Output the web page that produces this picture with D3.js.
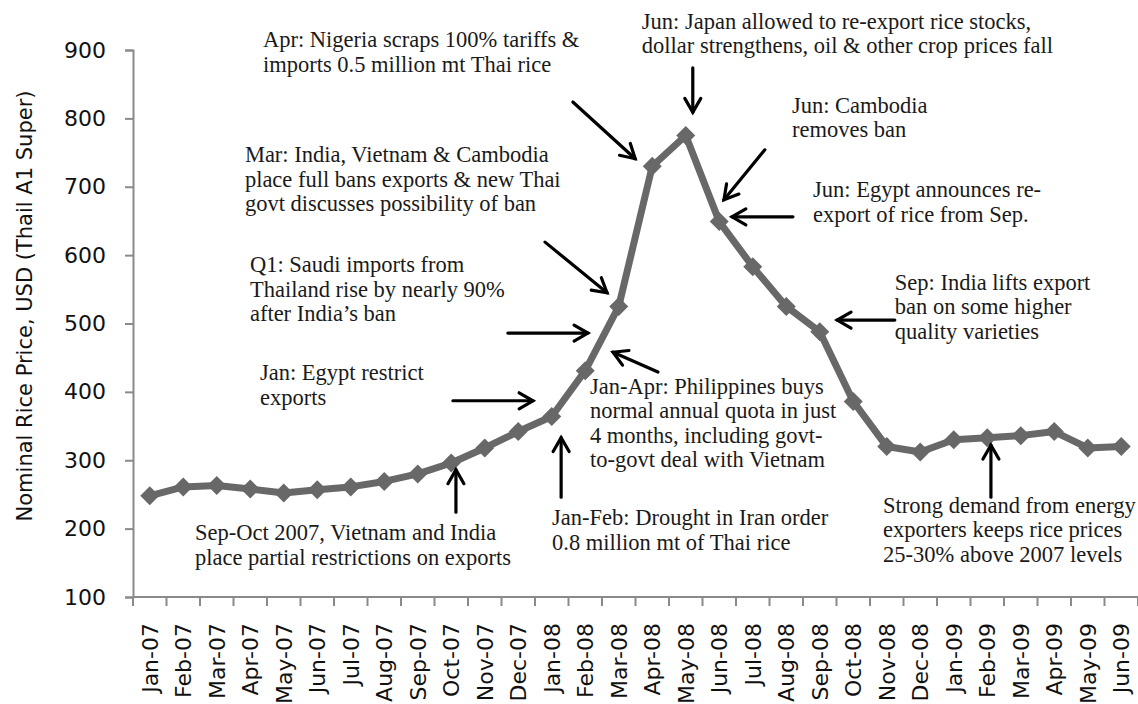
<!DOCTYPE html>
<html>
<head>
<meta charset="utf-8">
<script src="https://cdn.jsdelivr.net/npm/d3@7"></script>
<style>
  body { margin: 0; background: #fff; }
  svg { display: block; }
</style>
</head>
<body>
<div id="chart"></div>
<script>
// monthly Thai A1 Super prices, USD/mt
const months = ["Jan-07","Feb-07","Mar-07","Apr-07","May-07","Jun-07","Jul-07","Aug-07","Sep-07","Oct-07","Nov-07","Dec-07",
                "Jan-08","Feb-08","Mar-08","Apr-08","May-08","Jun-08","Jul-08","Aug-08","Sep-08","Oct-08","Nov-08","Dec-08",
                "Jan-09","Feb-09","Mar-09","Apr-09","May-09","Jun-09"];
const prices = [248,261,263,258,252,257,261,269,280,296,318,342,
                364,431,525,730,775,649,583,525,488,386,320,312,
                330,333,336,342,318,320];
const yTicks = [100,200,300,400,500,600,700,800,900];
const yTitle = "Nominal Rice Price, USD (Thail A1 Super)";

// annotation text: i = month index (fractional), v = price level of first baseline
const notes = [
  {i: 3.38,  v: 904, lines: ["Apr: Nigeria scraps 100% tariffs &", "imports 0.5 million mt Thai rice"]},
  {i: 14.69, v: 931, lines: ["Jun: Japan allowed to re-export rice stocks,", "dollar strengthens, oil & other crop prices fall"]},
  {i: 19.17, v: 808, lines: ["Jun: Cambodia", "removes ban"]},
  {i: 19.8,  v: 685, lines: ["Jun: Egypt announces re-", "export of rice from Sep."]},
  {i: 2.84,  v: 736, lines: ["Mar: India, Vietnam & Cambodia", "place full bans exports & new Thai", "govt discusses possibility of ban"]},
  {i: 2.99,  v: 575, lines: ["Q1: Saudi imports from", "Thailand rise by nearly 90%", "after India\u2019s ban"]},
  {i: 3.29,  v: 417, lines: ["Jan: Egypt restrict", "exports"]},
  {i: 1.35,  v: 183, lines: ["Sep-Oct 2007, Vietnam and India", "place partial restrictions on exports"]},
  {i: 12.01, v: 205, lines: ["Jan-Feb: Drought in Iran order", "0.8 million mt of Thai rice"]},
  {i: 13.14, v: 397, lines: ["Jan-Apr: Philippines buys", "normal annual quota in just", "4 months, including govt-", "to-govt deal with Vietnam"]},
  {i: 22.24, v: 549, lines: ["Sep: India lifts export", "ban on some higher", "quality varieties"]},
  {i: 21.89, v: 223, lines: ["Strong demand from energy", "exporters keeps rice prices", "25-30% above 2007 levels"]}
];

// arrows: from [i, v] to [i, v] (head at "to")
const arrows = [
  {from: [12.63, 824], to: [14.49, 741]},
  {from: [16.21, 874], to: [16.21, 809]},
  {from: [18.36, 754], to: [17.14, 681]},
  {from: [19.2, 656],  to: [17.38, 656]},
  {from: [11.8, 619],  to: [13.65, 545]},
  {from: [22.24, 505], to: [20.52, 505]},
  {from: [25.11, 246], to: [25.11, 322]},
  {from: [10.69, 486], to: [13.08, 486]},
  {from: [9.05, 387],  to: [11.44, 387]},
  {from: [9.14, 224],  to: [9.14, 286]},
  {from: [12.28, 246], to: [12.28, 333]},
  {from: [15.17, 429], to: [13.83, 458]}
];

var width = 1138, height = 704;
var plotLeft = 133, plotRight = 1138, plotTop = 50, plotBottom = 597;

var svg = d3.select("#chart").append("svg")
    .attr("width", width)
    .attr("height", height);

var x = d3.scaleBand().domain(months).range([plotLeft, plotRight]);
var y = d3.scaleLinear().domain([100, 900]).range([plotBottom, plotTop]);
var xi = d3.scaleLinear()
    .domain([0, months.length - 1])
    .range([x(months[0]) + x.bandwidth() / 2, x(months[months.length - 1]) + x.bandwidth() / 2]);

// y axis
var yAxis = svg.append("g")
    .attr("transform", "translate(" + plotLeft + ",0)")
    .call(d3.axisLeft(y).tickValues(yTicks).tickSize(8).tickPadding(19).tickFormat(d3.format("d")));
yAxis.select(".domain").attr("stroke", "#8a8a8a").attr("stroke-width", 2);
yAxis.selectAll(".tick line").attr("stroke", "#8a8a8a").attr("stroke-width", 2);
yAxis.selectAll(".tick text")
    .style("font-family", "DejaVu Sans")
    .style("font-size", "22px")
    .attr("fill", "#111");

// x axis: ticks at band edges
var xAxisG = svg.append("g").attr("transform", "translate(0," + plotBottom + ")");
xAxisG.append("line")
    .attr("x1", plotLeft).attr("x2", plotRight)
    .attr("stroke", "#8a8a8a").attr("stroke-width", 2);
xAxisG.selectAll(".edge")
    .data(months.concat(["end"]))
    .enter().append("line")
    .attr("x1", function(d, i) { return plotLeft + i * x.step(); })
    .attr("x2", function(d, i) { return plotLeft + i * x.step(); })
    .attr("y1", 0).attr("y2", 9)
    .attr("stroke", "#8a8a8a").attr("stroke-width", 2);
xAxisG.selectAll(".lbl")
    .data(months)
    .enter().append("text")
    .attr("transform", function(d) {
      return "translate(" + (x(d) + x.bandwidth() / 2) + ",26)rotate(-90)";
    })
    .attr("text-anchor", "end")
    .attr("dy", "0.36em")
    .style("font-family", "DejaVu Sans")
    .style("font-size", "22px")
    .attr("fill", "#111")
    .text(function(d) { return d; });

// y title
svg.append("text")
    .attr("transform", "translate(32,306)rotate(-90)")
    .attr("text-anchor", "middle")
    .style("font-family", "DejaVu Sans")
    .style("font-size", "21px")
    .attr("fill", "#111")
    .text(yTitle);

// series line + diamond markers
var line = d3.line()
    .x(function(d, i) { return x(months[i]) + x.bandwidth() / 2; })
    .y(function(d) { return y(d); });

svg.append("path")
    .datum(prices)
    .attr("d", line)
    .attr("fill", "none")
    .attr("stroke", "#686868")
    .attr("stroke-width", 7)
    .attr("stroke-linejoin", "round");

svg.selectAll(".mk")
    .data(prices)
    .enter().append("path")
    .attr("d", d3.symbol().type(d3.symbolDiamond2).size(230))
    .attr("transform", function(d, i) {
      return "translate(" + (x(months[i]) + x.bandwidth() / 2) + "," + y(d) + ")";
    })
    .attr("fill", "#686868");

// arrows
var headLen = 16, headAng = Math.PI / 6;
var ag = svg.append("g")
    .attr("stroke", "#000")
    .attr("stroke-width", 3.2)
    .attr("stroke-linecap", "round")
    .attr("fill", "none");
arrows.forEach(function(a) {
  var x1 = xi(a.from[0]), y1 = y(a.from[1]);
  var x2 = xi(a.to[0]), y2 = y(a.to[1]);
  var ang = Math.atan2(y2 - y1, x2 - x1);
  ag.append("line").attr("x1", x1).attr("y1", y1).attr("x2", x2).attr("y2", y2);
  ag.append("path").attr("d",
    "M" + (x2 - headLen * Math.cos(ang - headAng)) + "," + (y2 - headLen * Math.sin(ang - headAng)) +
    "L" + x2 + "," + y2 +
    "L" + (x2 - headLen * Math.cos(ang + headAng)) + "," + (y2 - headLen * Math.sin(ang + headAng)))
    .attr("stroke-linejoin", "miter");
});

// annotation text
notes.forEach(function(n) {
  var t = svg.append("text")
      .attr("x", xi(n.i))
      .attr("y", y(n.v))
      .style("font-family", "Liberation Serif")
      .style("font-size", "22.5px")
      .attr("fill", "#1a1a1a");
  n.lines.forEach(function(s, k) {
    t.append("tspan")
      .attr("x", xi(n.i))
      .attr("dy", k === 0 ? 0 : 24.5)
      .text(s);
  });
});
</script>
</body>
</html>
